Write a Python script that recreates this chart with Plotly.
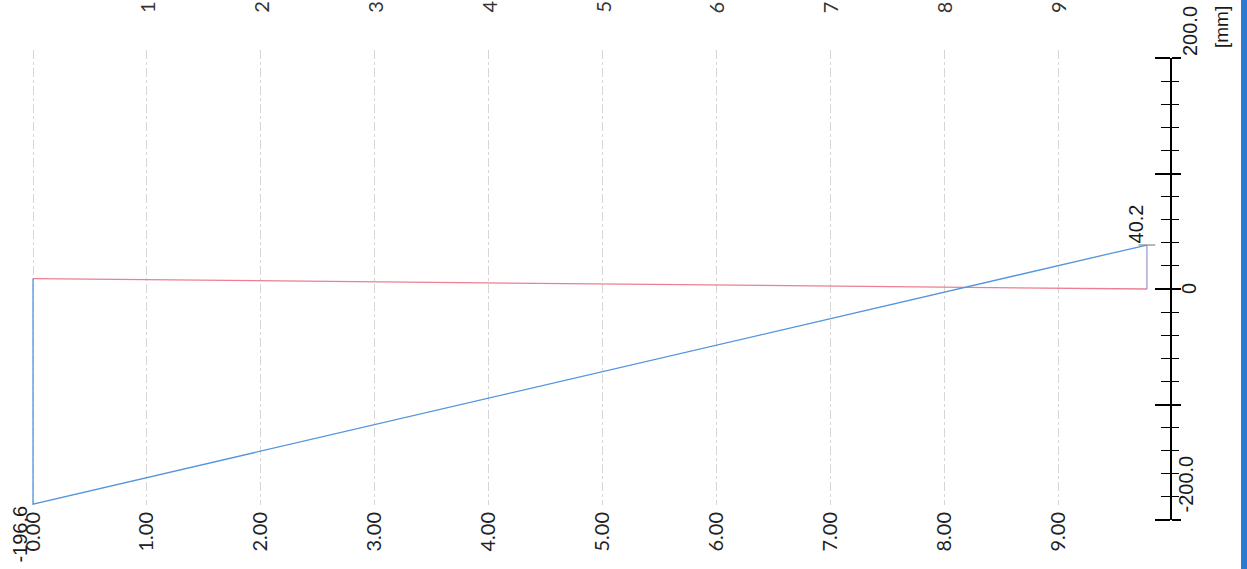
import plotly.graph_objects as go

# ---------------- data ----------------
span_end = 9.78                      # beam length [m]
red_x = [0.0, span_end]
red_y = [9.5, 0.0]                   # [mm]
blue_x = [0.0, 0.0, span_end]
blue_y = [9.5, -196.6, 40.2]         # [mm]
end_x = [span_end, span_end]
end_y = [40.2, 0.0]

x_ticks = [0, 1, 2, 3, 4, 5, 6, 7, 8, 9]
x_tick_labels = ["0.00", "1.00", "2.00", "3.00", "4.00", "5.00", "6.00", "7.00", "8.00", "9.00"]
top_labels = ["1", "2", "3", "4", "5", "6", "7", "8", "9"]
top_label_pos = [1, 2, 3, 4, 5, 6, 7, 8, 9]

min_label = "-196.6"
max_label = "40.2"
scale_label_vals = [200, 0, -200]
scale_label_text = ["200.0", "0", "-200.0"]
scale_unit = "[mm]"

# ---------------- layout geometry ----------------
W, H = 1247, 569
T, B = 50, 40
PH = H - T - B


def py(p):
    """pixel row -> paper fraction"""
    return (H - B - p) / PH


px_per_unit = 113.9
x0_px = 33
x_range = [-x0_px / px_per_unit, (W - x0_px) / px_per_unit]

zero_px = 289
mm_px = 1.094
y_range = [-(505 - zero_px) / mm_px, (zero_px - T) / mm_px]

bar_x = 1171 / W

fig = go.Figure()

fig.add_trace(go.Scatter(x=red_x, y=red_y, mode="lines",
                         line=dict(color="#ec7f92", width=1.3), hoverinfo="skip"))
fig.add_trace(go.Scatter(x=blue_x, y=blue_y, mode="lines",
                         line=dict(color="#5394de", width=1.3), hoverinfo="skip"))
fig.add_trace(go.Scatter(x=end_x, y=end_y, mode="lines",
                         line=dict(color="#9088c6", width=1.1), hoverinfo="skip"))
fig.add_trace(go.Scatter(x=end_x[:1], y=end_y[:1], mode="markers",
                         marker=dict(symbol="line-ew", size=12,
                                     line=dict(color="#888888", width=1.2)),
                         hoverinfo="skip"))
# dummy traces for the scale-bar axes
fig.add_trace(go.Scatter(x=[None], y=[None], xaxis="x2", yaxis="y2", hoverinfo="skip"))
fig.add_trace(go.Scatter(x=[None], y=[None], xaxis="x2", yaxis="y3", hoverinfo="skip"))

annotations = []
tick_font = dict(family="Liberation Sans, Arial", size=20, color="#1a1a1a")
annotations.append(dict(x=0, y=blue_y[1], xref="x", yref="y", text=min_label,
                        showarrow=False, textangle=-90, xanchor="center", yanchor="top",
                        xshift=-13, font=tick_font))
annotations.append(dict(x=span_end, y=blue_y[2], xref="x", yref="y", text=max_label,
                        showarrow=False, textangle=-90, xanchor="center", yanchor="bottom",
                        xshift=-11, font=tick_font))
for v, t in zip(scale_label_vals, scale_label_text):
    if v == 0:
        annotations.append(dict(x=1189 / W, y=v, xref="paper", yref="y2", text=t,
                                showarrow=False, textangle=-90, xanchor="center",
                                yanchor="middle", font=tick_font))
    else:
        annotations.append(dict(x=(1190 if v > 0 else 1185) / W, y=v, xref="paper", yref="y2",
                                text=t, showarrow=False, textangle=-90, xanchor="center",
                                yanchor="bottom", yshift=(0 if v > 0 else 5), font=tick_font))
annotations.append(dict(x=1222 / W, y=scale_label_vals[0], xref="paper", yref="y2",
                        text=scale_unit, showarrow=False, textangle=-90, xanchor="center",
                        yanchor="bottom", yshift=8, font=dict(family="Liberation Sans, Arial",
                                                              size=19, color="#1a1a1a")))
for pos, t in zip(top_label_pos, top_labels):
    annotations.append(dict(x=pos, y=py(15), xref="x", yref="paper", text=t,
                            showarrow=False, textangle=-90, xanchor="center", yanchor="bottom",
                            font=dict(family="Lato, Open Sans", size=20, color="#333333")))

fig.update_layout(
    width=W, height=H,
    margin=dict(l=0, r=0, t=T, b=B),
    paper_bgcolor="white", plot_bgcolor="rgba(0,0,0,0)",
    showlegend=False,
    xaxis=dict(range=x_range, domain=[0, 1], anchor="y",
               tickmode="array", tickvals=x_ticks, ticktext=x_tick_labels,
               tickangle=-90, ticks="", showline=False, zeroline=False,
               showgrid=True, gridcolor="#d6d6d6", gridwidth=1, griddash="dashdot",
               tickfont=dict(family="Lato, Open Sans", size=20, color="#222222"),
               ticklabelstandoff=2),
    yaxis=dict(range=y_range, domain=[py(505), 1], anchor="x",
               visible=False, showgrid=False, zeroline=False),
    xaxis2=dict(domain=[0, 1], range=[0, 1], anchor="y2", visible=False),
    yaxis2=dict(range=[-200, 200], domain=[py(520), py(58)], anchor="free",
                position=bar_x, side="left", showline=True, linecolor="black",
                linewidth=1.6, showgrid=False, zeroline=False, showticklabels=False,
                tickmode="linear", tick0=0, dtick=100, ticks="outside", ticklen=15,
                tickwidth=1.5, tickcolor="black",
                minor=dict(tickmode="linear", tick0=0, dtick=20, ticks="outside",
                           ticklen=9, tickwidth=1.3, tickcolor="black", showgrid=False)),
    yaxis3=dict(range=[-200, 200], overlaying="y2", anchor="free",
                position=bar_x, side="right", showline=False,
                showgrid=False, zeroline=False, showticklabels=False,
                tickmode="linear", tick0=0, dtick=100, ticks="outside", ticklen=9,
                tickwidth=1.5, tickcolor="black",
                minor=dict(tickmode="linear", tick0=0, dtick=20, ticks="outside",
                           ticklen=7, tickwidth=1.3, tickcolor="black", showgrid=False)),
    annotations=annotations,
    shapes=[dict(type="rect", xref="paper", yref="paper", x0=1241 / W, x1=1.01,
                 y0=-0.2, y1=1.2, fillcolor="#2b7bd6", line=dict(width=0), layer="above")],
)

fig.write_html("out.html",
               config={"displayModeBar": False},
               post_script="document.body.style.margin='0px';"
                           "document.body.style.overflow='hidden';")
